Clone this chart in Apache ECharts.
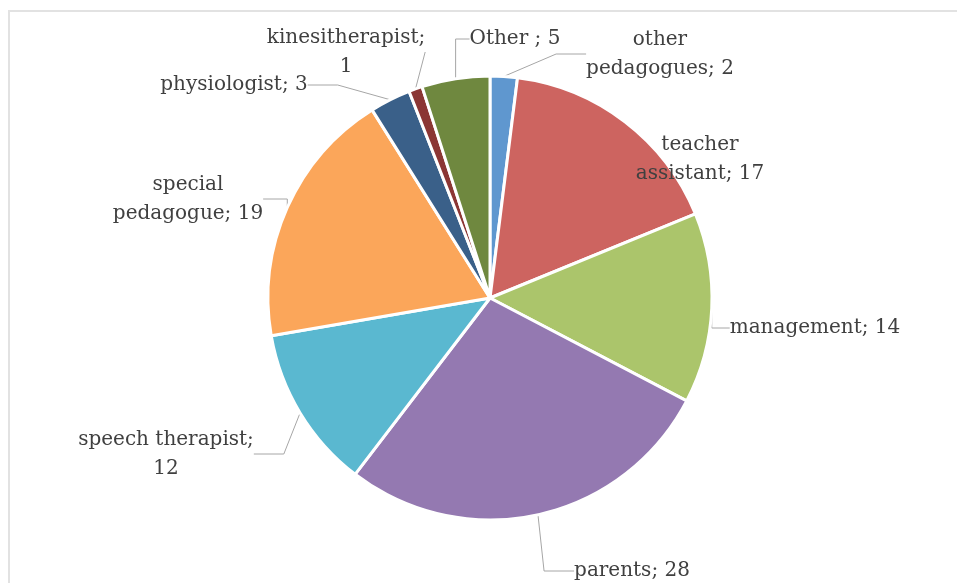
<!DOCTYPE html>
<html>
<head>
<meta charset="utf-8">
<script src="https://cdn.jsdelivr.net/npm/echarts@6/dist/echarts.min.js"></script>
<style>
  html, body { margin: 0; padding: 0; background: #fff; }
  #chart { width: 957px; height: 583px; }
</style>
</head>
<body>
<div id="chart"></div>
<script>
// slices, clockwise from 12 o'clock
const categories = ['other pedagogues', 'teacher assistant', 'management', 'parents',
  'speech therapist', 'special pedagogue', 'physiologist', 'kinesitherapist', 'Other '];
const values = [2, 17, 14, 28, 12, 19, 3, 1, 5];
// where the label text wraps: 'word' = after first word, 'semi' = after the semicolon
const labelBreaks = ['word', 'word', null, null, 'semi', 'word', null, 'semi', null];

const colors = ['#5f97cf', '#cd6460', '#abc56b', '#9479b1', '#5ab8d0',
  '#fba65a', '#3a6089', '#8b3634', '#6f883f'];
// label block centres
const labelPos = [[660, 54], [700, 159], [815, 328], [632, 571], [166, 454],
  [188, 199], [234, 85], [346, 52], [515, 39]];

function labelText(i) {
  let s = categories[i] + '; ' + values[i];
  if (labelBreaks[i] === 'word') s = s.replace(' ', '\n');
  if (labelBreaks[i] === 'semi') s = s.replace('; ', ';\n');
  return s;
}

const chart = echarts.init(document.getElementById('chart'));
chart.setOption({
  animation: false,
  graphic: [{
    type: 'rect',
    shape: { x: 9, y: 11, width: 1000, height: 1000 },
    style: { fill: 'none', stroke: '#e2e2e2', lineWidth: 2 },
    silent: true
  }],
  series: [{
    type: 'pie',
    center: [490, 298],
    radius: 222,
    startAngle: 90,
    clockwise: true,
    itemStyle: { borderColor: '#fff', borderWidth: 3 },
    label: {
      formatter: p => labelText(p.dataIndex),
      fontFamily: 'DejaVu Serif',
      fontSize: 20,
      lineHeight: 29,
      color: '#404040',
      align: 'center'
    },
    labelLine: { show: true, lineStyle: { color: '#a6a6a6', width: 1 } },
    labelLayout: params => ({
      x: labelPos[params.dataIndex][0],
      y: labelPos[params.dataIndex][1],
      align: 'center',
      verticalAlign: 'middle'
    }),
    data: categories.map((c, i) => ({
      name: c, value: values[i], itemStyle: { color: colors[i] }
    }))
  }]
});
</script>
</body>
</html>
